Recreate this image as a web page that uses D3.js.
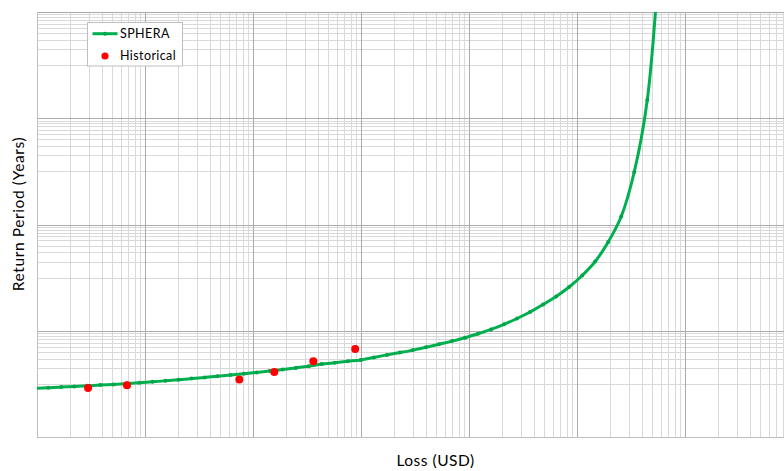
<!DOCTYPE html>
<html>
<head>
<meta charset="utf-8">
<script src="https://cdn.jsdelivr.net/npm/d3@7"></script>
<style>
  html, body { margin: 0; padding: 0; background: #fff; overflow: hidden; }
  svg { display: block; }
  text { font-family: Lato, "Open Sans", "Liberation Sans", sans-serif; fill: #000; }
</style>
</head>
<body>
<svg id="chart" width="784" height="471"></svg>
<script>
// Modelled loss exceedance curve (SPHERA): loss in USD and return period in years
const spheraLoss = [
  9.64e3, 1.273e4, 1.680e4, 2.217e4, 2.926e4, 3.863e4, 5.098e4, 6.730e4, 8.883e4,
  1.173e5, 1.548e5, 2.043e5, 2.697e5, 3.560e5, 4.699e5, 6.203e5, 8.187e5,
  1.081e6, 1.427e6, 1.883e6, 2.486e6, 3.281e6, 4.331e6, 5.717e6, 7.546e6, 9.960e6,
  1.315e7, 1.735e7, 2.291e7, 3.024e7, 3.991e7, 5.268e7, 6.954e7, 9.180e7,
  1.212e8, 1.599e8, 2.111e8, 2.786e8, 3.678e8, 4.855e8, 6.408e8, 8.459e8,
  1.117e9, 1.474e9, 1.945e9, 2.568e9, 3.389e9, 4.474e9, 5.906e9
];
const spheraReturnPeriod = [
  8.25, 8.47, 8.70, 8.92, 9.20, 9.48, 9.77, 10.12, 10.48,
  10.94, 11.43, 11.98, 12.57, 13.24, 13.95, 14.69, 15.54,
  16.44, 17.47, 18.65, 19.98, 21.51, 23.56, 25.04, 26.61, 28.27,
  31.50, 35.11, 38.80, 43.23, 48.81, 55.83, 63.87, 73.99,
  87.6, 106.0, 132.3, 170.1, 225.4, 311.9, 441.3, 666.0,
  1096, 2012, 4684, 14150, 97300, 2.206e6, 2.12e9
];

// Historical events
const historicalLoss = [2.97e4, 6.81e4, 7.47e5, 1.575e6, 3.62e6, 8.84e6];
const historicalReturnPeriod = [8.36, 9.40, 12.04, 16.73, 26.6, 45.1];

// Axis extents and gridline positions (no tick labels are printed)
const lossDomain = [1e4, 1e11];
const periodDomain = [1, 1e8];
const lossDecades = [4, 5, 6, 7, 8, 9, 10, 11];
const periodMajors = [1, 1e2, 1e4, 1e6, 1e8];
const minorSteps = [2, 3, 4, 5, 6, 7, 8, 9];
const periodMinorSteps = [10, 20, 30, 40, 50, 60, 70, 80, 90];

const seriesNames = ["SPHERA", "Historical"];
const xTitle = "Loss (USD)";
const yTitle = "Return Period (Years)";

const GREEN = "#00B050";
const RED = "#FF0000";

const svg = d3.select("#chart");
const plot = { left: 37, top: 12, right: 793, bottom: 437 };

const x = d3.scaleLog().domain(lossDomain).range([plot.left, plot.right]);
const y = d3.scaleLog().domain(periodDomain).range([plot.bottom, plot.top]);

svg.append("defs").append("clipPath").attr("id", "plotClip")
  .append("rect")
  .attr("x", plot.left).attr("y", plot.top)
  .attr("width", plot.right - plot.left).attr("height", plot.bottom - plot.top);

const xMajor = lossDecades.map(d => Math.pow(10, d));
const xMinor = [];
lossDecades.slice(0, -1).forEach(d => minorSteps.forEach(k => xMinor.push(k * Math.pow(10, d))));
const yMinor = [];
periodMajors.slice(0, -1).forEach(m => periodMinorSteps.forEach(k => yMinor.push(m * k)));

const grid = svg.append("g").attr("shape-rendering", "crispEdges");

// minor gridlines
grid.append("g").selectAll("line").data(xMinor).join("line")
  .attr("x1", d => Math.round(x(d)) + 0.5).attr("x2", d => Math.round(x(d)) + 0.5)
  .attr("y1", plot.top).attr("y2", plot.bottom)
  .attr("stroke", "#D9D9D9").attr("stroke-width", 1);
grid.append("g").selectAll("line").data(yMinor).join("line")
  .attr("y1", d => Math.round(y(d)) + 0.5).attr("y2", d => Math.round(y(d)) + 0.5)
  .attr("x1", plot.left).attr("x2", plot.right)
  .attr("stroke", "#D9D9D9").attr("stroke-width", 1);

// major gridlines
grid.append("g").selectAll("line").data(xMajor).join("line")
  .attr("x1", d => Math.round(x(d)) + 0.5).attr("x2", d => Math.round(x(d)) + 0.5)
  .attr("y1", plot.top).attr("y2", plot.bottom)
  .attr("stroke", "#ABABAB").attr("stroke-width", 1);
grid.append("g").selectAll("line").data(periodMajors).join("line")
  .attr("y1", d => Math.round(y(d)) + 0.5).attr("y2", d => Math.round(y(d)) + 0.5)
  .attr("x1", plot.left).attr("x2", plot.right)
  .attr("stroke", "#ABABAB").attr("stroke-width", 1);

// axis lines (left and bottom)
grid.append("line")
  .attr("x1", plot.left + 0.5).attr("x2", plot.left + 0.5)
  .attr("y1", plot.top).attr("y2", plot.bottom + 0.5)
  .attr("stroke", "#BFBFBF").attr("stroke-width", 1);
grid.append("line")
  .attr("x1", plot.left).attr("x2", plot.right)
  .attr("y1", plot.bottom + 0.5).attr("y2", plot.bottom + 0.5)
  .attr("stroke", "#BFBFBF").attr("stroke-width", 1);

// SPHERA curve
const curveData = spheraLoss.map((l, i) => ({ loss: l, rp: spheraReturnPeriod[i] }));
const marks = svg.append("g").attr("clip-path", "url(#plotClip)");
marks.append("path")
  .datum(curveData)
  .attr("fill", "none")
  .attr("stroke", GREEN)
  .attr("stroke-width", 3)
  .attr("stroke-linejoin", "round")
  .attr("d", d3.line().x(d => x(d.loss)).y(d => y(d.rp)).curve(d3.curveCatmullRom.alpha(0.5)));
marks.append("g").selectAll("circle").data(curveData).join("circle")
  .attr("cx", d => x(d.loss)).attr("cy", d => y(d.rp))
  .attr("r", 2).attr("fill", "#00A548");

// Historical points
const histData = historicalLoss.map((l, i) => ({ loss: l, rp: historicalReturnPeriod[i] }));
marks.append("g").selectAll("circle").data(histData).join("circle")
  .attr("cx", d => x(d.loss)).attr("cy", d => y(d.rp))
  .attr("r", 4).attr("fill", RED);

// Legend
const legend = svg.append("g").attr("transform", "translate(87.5,22.5)");
legend.append("rect").attr("width", 95).attr("height", 43.5)
  .attr("fill", "#fff").attr("stroke", "#BFBFBF").attr("stroke-width", 1);
legend.append("line").attr("x1", 5).attr("x2", 30).attr("y1", 11.2).attr("y2", 11.2)
  .attr("stroke", GREEN).attr("stroke-width", 3);
legend.append("circle").attr("cx", 17.5).attr("cy", 11.2).attr("r", 2).attr("fill", "#00A548");
legend.append("circle").attr("cx", 17.5).attr("cy", 33.5).attr("r", 3.6).attr("fill", RED);
legend.selectAll("text.lg").data(seriesNames).join("text")
  .attr("class", "lg")
  .attr("x", 32.5).attr("y", (d, i) => 15.6 + i * 22)
  .attr("font-size", "12.5px")
  .attr("letter-spacing", "0.4px")
  .text(d => d);

// Axis titles
svg.append("text")
  .attr("x", 435.5).attr("y", 466)
  .attr("text-anchor", "middle")
  .attr("font-size", "15.5px")
  .attr("letter-spacing", "0.5px")
  .text(xTitle);
svg.append("text")
  .attr("transform", "translate(23.5,214) rotate(-90)")
  .attr("text-anchor", "middle")
  .attr("font-size", "15.5px")
  .attr("letter-spacing", "0.6px")
  .text(yTitle);
</script>
</body>
</html>
